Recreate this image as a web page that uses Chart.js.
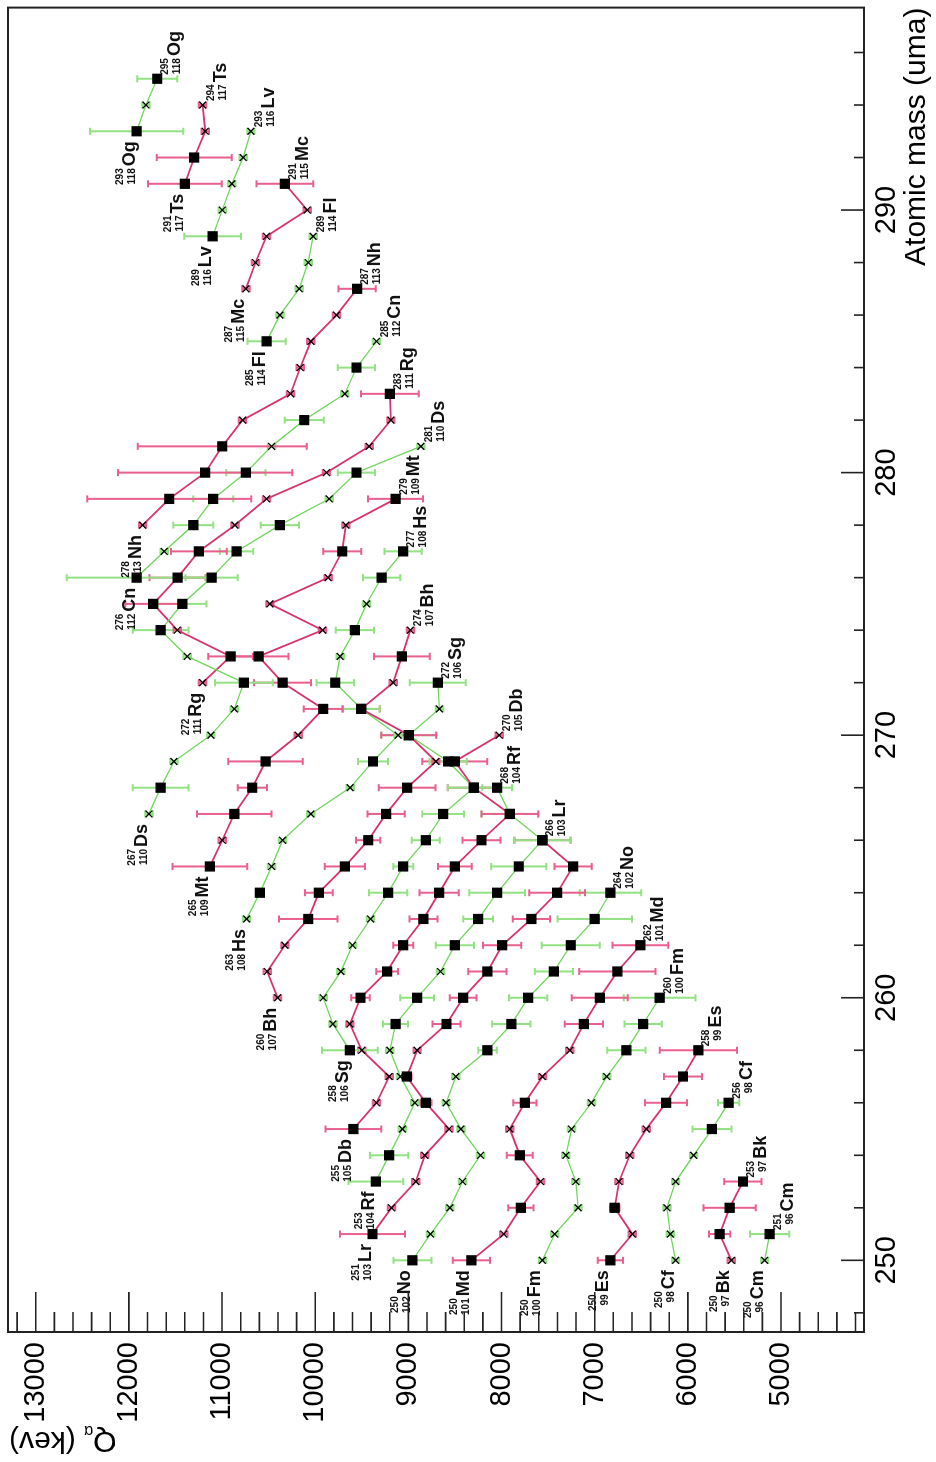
<!DOCTYPE html>
<html>
<head>
<meta charset="utf-8">
<script src="https://cdn.jsdelivr.net/npm/chart.js@4.4.1/dist/chart.umd.min.js"></script>
<style>
html, body { margin: 0; padding: 0; background: #fff; overflow: hidden; }
body { width: 936px; height: 1462px; position: relative; }
/* the chart is drawn landscape and turned a quarter turn */
#wrap { position: absolute; left: 0; top: 1462px; width: 1462px; height: 936px;
        transform-origin: 0 0; transform: rotate(-90deg); }
</style>
</head>
<body>
<div id="wrap"><canvas id="qaChart" width="1462" height="936"></canvas></div>
<script>
// each row: [mass, Q alpha (keV), error (keV), experimental ? 1 : 0]
const Cm = [[250,5176,40,0],[251,5122,210,1]];
const Bk = [[250,5533,40,0],[251,5659,115,1],[252,5551,280,1],[253,5408,200,1]];
const Cf = [[250,6131,40,0],[251,6188,40,0],[252,6224,40,0],[253,6131,40,0],[254,5938,40,0],[255,5741,210,1],[256,5562,115,1]];
const Es = [[250,6832,135,1],[251,6596,40,0],[252,6785,50,1],[253,6739,40,0],[254,6624,40,0],[255,6446,40,0],[256,6234,225,1],[257,6052,205,1],[258,5886,415,1]];
const Fm = [[250,7561,40,0],[251,7429,40,0],[252,7178,40,0],[253,7203,40,0],[254,7310,40,0],[255,7249,40,0],[256,7035,40,0],[257,6871,40,0],[258,6660,205,1],[259,6481,200,1],[260,6302,385,1]];
const Md = [[250,8323,200,1],[251,7976,40,0],[252,7793,135,1],[253,7582,40,0],[254,7804,140,1],[255,7911,40,0],[256,7750,125,1],[257,7561,40,0],[258,7267,40,0],[259,7117,205,1],[260,6945,300,1],[261,6756,410,1],[262,6509,300,1]];
const No = [[250,8956,205,1],[251,8763,40,0],[252,8555,40,0],[253,8419,40,0],[254,8226,40,0],[255,8436,40,0],[256,8595,40,0],[257,8491,40,0],[258,8151,100,1],[259,7894,205,1],[260,7714,205,1],[261,7439,205,1],[262,7257,310,1],[263,7000,400,1],[264,6831,330,1]];
const Lr = [[251,9385,350,1],[252,9181,40,0],[253,8920,40,0],[254,8824,40,0],[255,8564,40,0],[256,8813,60,1],[257,9016,50,1],[258,8906,40,0],[259,8591,150,1],[260,8412,143,1],[261,8151,205,1],[262,7993,205,1],[263,7679,200,1],[264,7403,300,1],[265,7232,200,1],[266,7561,300,1]];
const Rf = [[253,9349,295,1],[254,9206,205,1],[255,9065,40,0],[256,8931,40,0],[257,9085,40,0],[258,9199,40,0],[259,9138,135,1],[260,8906,180,1],[261,8655,40,0],[262,8501,205,1],[263,8251,160,1],[264,8047,300,1],[265,7815,295,1],[266,7561,305,1],[267,7911,305,1],[268,8047,160,1]];
const Db = [[255,9590,300,1],[256,9342,40,0],[257,9206,40,0],[258,9500,40,0],[259,9628,40,0],[260,9514,100,1],[261,9228,116,1],[262,9056,107,1],[263,8838,150,1],[264,8670,210,1],[265,8501,180,1],[266,8215,205,1],[267,7911,305,1],[268,8298,280,1],[269,8502,350,1],[270,8025,40,0]];
const Sg = [[258,9628,300,1],[259,9810,40,0],[260,9914,40,0],[261,9725,40,0],[262,9600,40,0],[263,9406,40,0],[264,9217,205,1],[265,9056,107,1],[266,8813,150,1],[267,8627,225,1],[268,8298,280,1],[269,8574,200,1],[270,8995,295,1],[271,8667,40,0],[272,8684,300,1]];
const Bh = [[260,10404,40,0],[261,10515,40,0],[262,10326,40,0],[263,10075,313,1],[264,9961,150,1],[265,9682,215,1],[266,9431,130,1],[267,9240,200,1],[268,9014,305,1],[269,8705,40,0],[270,8995,295,1],[271,9506,200,1],[272,9163,40,0],[273,9070,300,1],[274,8978,40,0]];
const Hs = [[263,10737,40,0],[264,10594,40,1],[265,10469,40,0],[266,10351,40,0],[267,10047,40,0],[268,9625,40,0],[269,9380,160,1],[270,9110,40,0],[271,9506,200,1],[272,9785,200,1],[273,9732,40,0],[274,9575,205,1],[275,9449,40,0],[276,9288,200,1],[277,9056,200,1]];
const Mt = [[265,11131,400,1],[266,10998,40,0],[267,10869,400,1],[268,10676,157,1],[269,10533,400,1],[270,10183,40,0],[271,9914,210,1],[272,10351,305,1],[273,10608,320,1],[274,9921,40,0],[275,10487,40,0],[276,9861,40,0],[277,9710,205,1],[278,9671,40,0],[279,9138,295,1]];
const Ds = [[267,11785,40,0],[268,11660,300,1],[269,11517,40,0],[270,11120,40,0],[271,10869,40,0],[272,10766,310,1],[273,11374,40,0],[274,11660,300,1],[275,11427,260,1],[276,11113,280,1],[277,10844,180,1],[278,10379,205,1],[279,9850,40,0],[280,9557,200,1],[281,8866,40,0]];
const Rg = [[272,11209,40,0],[273,10909,240,1],[274,11481,40,0],[275,11739,300,1],[276,11478,300,1],[277,11249,300,1],[278,10862,40,0],[279,10523,40,0],[280,9879,40,0],[281,9421,40,0],[282,9188,40,0],[283,9199,310,1]];
const Cn = [[276,11918,750,1],[277,11621,40,0],[278,11309,215,1],[279,11095,215,1],[280,10744,210,1],[281,10469,40,0],[282,10118,210,1],[283,9682,40,0],[284,9557,200,1],[285,9342,40,0]];
const Nh = [[278,11853,40,0],[279,11567,880,1],[280,11181,935,1],[281,10998,908,1],[282,10780,40,0],[283,10265,40,0],[284,10161,40,0],[285,10047,40,0],[286,9771,40,0],[287,9550,200,1]];
const Fl = [[285,10522,206,1],[286,10379,40,0],[287,10172,40,0],[288,10075,40,0],[289,10022,40,0]];
const Mc = [[287,10744,40,0],[288,10641,40,0],[289,10523,40,0],[290,10086,40,0],[291,10326,304,1]];
const Lv = [[289,11102,304,1],[290,10998,40,0],[291,10895,40,0],[292,10773,40,0],[293,10691,40,0]];
const Ts = [[291,11399,395,1],[292,11299,402,1],[293,11181,40,0],[294,11209,40,0]];
const Og = [[293,11918,500,1],[294,11817,40,0],[295,11696,215,1]];

const symbols = ['Cm','Bk','Cf','Es','Fm','Md','No','Lr','Rf','Db','Sg','Bh','Hs','Mt','Ds','Rg','Cn','Nh','Fl','Mc','Lv','Ts','Og'];
const atomicNumbers = [96,97,98,99,100,101,102,103,104,105,106,107,108,109,110,111,112,113,114,115,116,117,118];
const chains = [Cm,Bk,Cf,Es,Fm,Md,No,Lr,Rf,Db,Sg,Bh,Hs,Mt,Ds,Rg,Cn,Nh,Fl,Mc,Lv,Ts,Og];

const massTicks = [250,260,270,280,290];
const qTicks = [5000,6000,7000,8000,9000,10000,11000,12000,13000];

const FONT = '"Liberation Sans", Arial, Helvetica, sans-serif';
const GREEN = '#6fd65c', GREEN_BAR = '#92e283';
const PINK = '#d8336d', PINK_BAR = '#e9608f';

function isEven(i) { return atomicNumbers[i] % 2 === 0; }

const datasets = chains.map((rows, i) => ({
    label: symbols[i],
    data: rows.map(r => ({ x: r[0], y: r[1] })),
    showLine: true,
    borderColor: isEven(i) ? GREEN : PINK,
    borderWidth: isEven(i) ? 1.3 : 1.8,
    pointStyle: c => rows[c.dataIndex][3] ? 'rect' : 'crossRot',
    pointRadius: c => rows[c.dataIndex][3] ? 6.3 : 4.8,
    pointBackgroundColor: '#000',
    pointBorderColor: '#000',
    pointBorderWidth: 1.3
}));

// error bars, drawn under the lines and markers
const errorBars = {
    id: 'errorBars',
    beforeDatasetsDraw(chart) {
        const ctx = chart.ctx, ys = chart.scales.y;
        ctx.save();
        ctx.lineWidth = 2;
        chains.forEach((rows, i) => {
            const meta = chart.getDatasetMeta(i);
            ctx.strokeStyle = isEven(i) ? GREEN_BAR : PINK_BAR;
            rows.forEach((r, j) => {
                const x = meta.data[j].x;
                const y1 = ys.getPixelForValue(r[1] - r[2]);
                const y2 = ys.getPixelForValue(r[1] + r[2]);
                ctx.beginPath();
                ctx.moveTo(x, y1); ctx.lineTo(x, y2);
                ctx.moveTo(x - 3.5, y1); ctx.lineTo(x + 3.5, y1);
                ctx.moveTo(x - 3.5, y2); ctx.lineTo(x + 3.5, y2);
                ctx.stroke();
            });
        });
        ctx.restore();
    }
};

function nuclide(ctx, x, y, A, Z, sym, atEnd) {
    ctx.font = 'bold 10px ' + FONT;
    const ws = Math.max(ctx.measureText(String(A)).width, ctx.measureText(String(Z)).width);
    ctx.font = 'bold 18px ' + FONT;
    const wSym = ctx.measureText(sym).width;
    let x0, base;
    if (atEnd) { x0 = x + 4; base = y + 23; }
    else { x0 = x - 10 - wSym - 2 - ws; base = y - 2; }
    ctx.fillStyle = '#111';
    ctx.textBaseline = 'alphabetic';
    ctx.font = 'bold 10px ' + FONT;
    ctx.textAlign = 'right';
    ctx.fillText(String(A), x0 + ws, base - 12);
    ctx.fillText(String(Z), x0 + ws, base);
    ctx.font = 'bold 18px ' + FONT;
    ctx.textAlign = 'left';
    ctx.fillText(sym, x0 + ws + 2, base);
}

// frame, inward ticks, nuclide labels and the Q axis title
const decorations = {
    id: 'decorations',
    beforeDraw(chart) {
        const ctx = chart.ctx;
        ctx.save();
        ctx.fillStyle = '#fff';
        ctx.fillRect(0, 0, chart.width, chart.height);
        ctx.restore();
    },
    afterDraw(chart) {
        const ctx = chart.ctx, a = chart.chartArea;
        const xs = chart.scales.x, ys = chart.scales.y;
        ctx.save();
        chains.forEach((rows, i) => {
            const meta = chart.getDatasetMeta(i);
            const first = meta.data[0], last = meta.data[rows.length - 1];
            nuclide(ctx, first.x, first.y, rows[0][0], atomicNumbers[i], symbols[i], false);
            nuclide(ctx, last.x, last.y, rows[rows.length - 1][0], atomicNumbers[i], symbols[i], true);
        });

        ctx.strokeStyle = '#222';
        ctx.lineWidth = 2;
        ctx.strokeRect(a.left, a.top, a.right - a.left, a.bottom - a.top);
        ctx.lineWidth = 1.6;
        ctx.beginPath();
        for (let m = 248; m <= 296; m += 2) {
            const px = xs.getPixelForValue(m);
            const len = m % 10 === 0 ? 23 : 10;
            ctx.moveTo(px, a.bottom); ctx.lineTo(px, a.bottom - len);
        }
        for (let q = 4200; q <= 13200; q += 200) {
            const py = ys.getPixelForValue(q);
            const len = q % 1000 === 0 ? 40 : 20;
            ctx.moveTo(a.left, py); ctx.lineTo(a.left + len, py);
        }
        ctx.stroke();

        // Q_alpha (kev), written along the axis
        ctx.translate(30, 9);
        ctx.rotate(-Math.PI / 2);
        ctx.fillStyle = '#000';
        ctx.textBaseline = 'alphabetic';
        ctx.textAlign = 'left';
        ctx.font = '30px ' + FONT;
        const wQ = ctx.measureText('Q').width;
        const wRest = ctx.measureText(' (kev)').width;
        ctx.font = '16px ' + FONT;
        const wA = ctx.measureText('\u03b1').width;
        let tx = -(wQ + wA + wRest);
        ctx.font = '30px ' + FONT;
        ctx.fillText('Q', tx, 0);
        ctx.font = '16px ' + FONT;
        ctx.fillText('\u03b1', tx + wQ, 6);
        ctx.font = '30px ' + FONT;
        ctx.fillText(' (kev)', tx + wQ + wA, 0);
        ctx.restore();
    }
};

new Chart(document.getElementById('qaChart'), {
    type: 'scatter',
    data: { datasets },
    options: {
        responsive: false,
        animation: false,
        devicePixelRatio: 1,
        layout: { padding: { top: 8, right: 4, left: 0, bottom: 0 } },
        plugins: { legend: { display: false }, tooltip: { enabled: false } },
        scales: {
            x: {
                type: 'linear',
                min: 247.27,
                max: 297.71,
                afterBuildTicks: s => { s.ticks = massTicks.map(v => ({ value: v })); },
                afterFit: s => { s.height = 72; s.paddingLeft = 0; s.paddingRight = 0; },
                grid: { display: false, drawTicks: false },
                border: { display: false },
                ticks: { color: '#000', font: { family: FONT, size: 29 }, padding: 6,
                         maxRotation: 0, autoSkip: false, callback: v => String(v) },
                title: { display: true, text: 'Atomic mass (uma)', align: 'end', color: '#000',
                         font: { family: FONT, size: 30 }, padding: { top: 0, bottom: 1 } }
            },
            y: {
                type: 'linear',
                min: 4109,
                max: 13298,
                afterBuildTicks: s => { s.ticks = qTicks.map(v => ({ value: v })); },
                afterFit: s => { s.width = 130; s.paddingTop = 0; s.paddingBottom = 0; },
                grid: { display: false, drawTicks: false },
                border: { display: false },
                ticks: { color: '#000', font: { family: FONT, size: 29 }, padding: 10,
                         autoSkip: false, callback: v => String(v) }
            }
        }
    },
    plugins: [errorBars, decorations]
});
</script>
</body>
</html>
